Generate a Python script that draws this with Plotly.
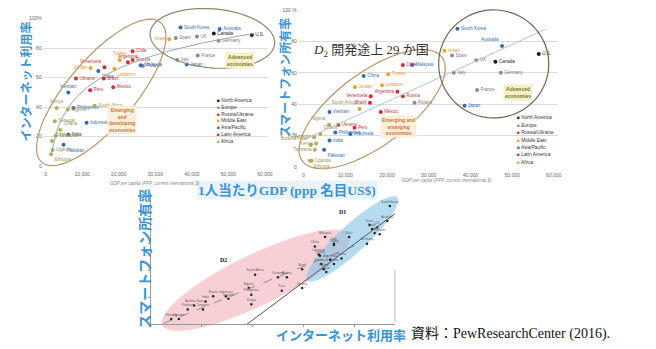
import numpy as np
import plotly.graph_objects as go

W, H = 656, 349

# ---------------- data ----------------
countries = ["U.S.", "Canada", "Spain", "France", "Germany", "UK", "Italy", "Israel", "Australia", "Japan", "South Korea",
             "Chile", "Russia", "Turkey", "Malaysia", "Poland", "Argentina", "Venezuela", "Lebanon", "Jordan", "China",
             "Brazil", "Ukraine", "Mexico", "Peru", "Vietnam", "South Africa", "Philippines", "Nigeria", "Kenya",
             "Senegal", "Indonesia", "Ghana", "India", "Tanzania", "Burkina Faso", "Pakistan", "Uganda", "Ethiopia"]
regions = ["NA", "NA", "EU", "EU", "EU", "EU", "EU", "ME", "AP", "AP", "AP",
           "LA", "RU", "ME", "AP", "EU", "LA", "LA", "ME", "ME", "AP",
           "LA", "RU", "LA", "LA", "AP", "AF", "AP", "AF", "AF",
           "AF", "AP", "AF", "AP", "AF", "AF", "AP", "AF", "AF"]
advanced = [1] * 11 + [0] * 28
gdp = [56400, 46000, 35600, 41600, 47300, 41400, 36000, 33800, 47600, 38600, 36900,
       23800, 23800, 20300, 26000, 26600, 22500, 16100, 18800, 12300, 14400,
       15900, 8300, 18500, 12200, 6200, 13400, 7600, 6100, 3000,
       2500, 11200, 4000, 6200, 2700, 1700, 4900, 1900, 1500]
internet = [89, 90, 87, 75, 85, 88, 72, 86, 93, 69, 94,
            78, 72, 72, 68.5, 68, 70.5, 67, 66, 66.5, 64.5,
            59.5, 59.5, 53.5, 51.5, 50, 41, 39.5, 38.5, 39.5,
            30.5, 29.5, 24.5, 21.5, 20.5, 17, 14.5, 11, 8]
smartphone = [72, 67, 71, 49, 60, 68, 60, 74, 77, 39, 88,
              65, 45, 59, 65, 41, 48, 45, 52, 51, 58,
              41, 27, 35, 25, 35, 37, 22, 27, 15,
              19, 21, 21, 17, 11, 14, 11, 4, 4]

region_order = ["NA", "EU", "RU", "ME", "AP", "LA", "AF"]
region_names = ["North America", "Europe", "Russia/Ukraine", "Middle East", "Asia/Pacific", "Latin America", "Africa"]
region_colors = {"NA": "#1a1a1a", "EU": "#8c8c8c", "RU": "#b5472e", "ME": "#f0a32a",
                 "AP": "#2f6db5", "LA": "#d42a3c", "AF": "#b3ad5a"}
text_colors = {"NA": "#222222", "EU": "#777777", "RU": "#b5472e", "ME": "#e8952a",
               "AP": "#2f6db5", "LA": "#cc2a3a", "AF": "#9a9550"}

gdp_ticks = [0, 10000, 20000, 30000, 40000, 50000, 60000]
gdp_tick_text = ["0", "10,000", "20,000", "30,000", "40,000", "50,000", "60,000"]
pct_ticks = [0, 20, 40, 60, 80, 100]

pos1 = {"Israel": "middle left", "Jordan": "middle left", "Venezuela": "top left", "Turkey": "top center",
        "Vietnam": "top center", "Kenya": "top center", "Argentina": "top center", "Lebanon": "bottom right",
        "China": "bottom right", "Chile": "middle right", "Ethiopia": "bottom right", "Burkina Faso": "top right",
        "Pakistan": "bottom right", "Ghana": "top right", "Uganda": "middle right", "Tanzania": "middle right"}
pos2 = {"Venezuela": "middle left", "Brazil": "middle left", "Argentina": "middle left", "Israel": "middle right",
        "Nigeria": "top left", "South Africa": "top left", "Australia": "top left", "Japan": "middle right",
        "Senegal": "middle left", "Ethiopia": "bottom right", "Uganda": "middle right", "Burkina Faso": "top left",
        "Tanzania": "middle left", "Ghana": "top right", "Pakistan": "bottom right", "Kenya": "middle left"}

fig = go.Figure()

# ---------------- panels 1 & 2 scatter ----------------
for reg in region_order:
    idx = [i for i, r in enumerate(regions) if r == reg]
    fig.add_trace(go.Scatter(
        x=[gdp[i] for i in idx], y=[internet[i] for i in idx],
        mode="markers+text", text=[countries[i] for i in idx],
        textposition=[pos1.get(countries[i], "middle right") for i in idx],
        marker=dict(size=4, color=region_colors[reg]),
        textfont=dict(size=4.5, color=text_colors[reg], family="Arial"),
        xaxis="x", yaxis="y", showlegend=False, cliponaxis=False, hoverinfo="skip"))
    fig.add_trace(go.Scatter(
        x=[gdp[i] for i in idx], y=[smartphone[i] for i in idx],
        mode="markers+text", text=[countries[i] for i in idx],
        textposition=[pos2.get(countries[i], "middle right") for i in idx],
        marker=dict(size=4, color=region_colors[reg]),
        textfont=dict(size=4.5, color=text_colors[reg], family="Arial"),
        xaxis="x2", yaxis="y2", showlegend=False, cliponaxis=False, hoverinfo="skip"))

# trend curves computed from the data
g = np.array(gdp, float)
inet = np.array(internet, float)
sp = np.array(smartphone, float)
b1, a1 = np.polyfit(np.log(g), inet, 1)
gx = np.linspace(1600, 57000, 80)
fig.add_trace(go.Scatter(x=gx, y=a1 + b1 * np.log(gx), mode="lines", line=dict(color="#93a6bd", width=1),
                         xaxis="x", yaxis="y", showlegend=False, hoverinfo="skip"))
b2, a2 = np.polyfit(g, sp, 1)
gx2 = np.array([0, 58000])
fig.add_trace(go.Scatter(x=gx2, y=a2 + b2 * gx2, mode="lines", line=dict(color="#b4c0ce", width=1),
                         xaxis="x2", yaxis="y2", showlegend=False, hoverinfo="skip"))

# ---------------- bottom panel ----------------
adv = np.array(advanced) == 1
fig.add_trace(go.Scatter(x=inet, y=sp, mode="markers+text", text=countries, textposition="top center",
                         marker=dict(size=2.5, color="#222"), textfont=dict(size=3, color="#444"),
                         xaxis="x3", yaxis="y3", showlegend=False, cliponaxis=False, hoverinfo="skip"))
s1, c1 = np.polyfit(inet[adv], sp[adv], 1)
x1 = np.array([-c1 / s1, 96])
fig.add_trace(go.Scatter(x=x1, y=c1 + s1 * x1, mode="lines", line=dict(color="#555", width=1),
                         xaxis="x3", yaxis="y3", showlegend=False, hoverinfo="skip", cliponaxis=False))
s2, c2 = np.polyfit(inet[~adv], sp[~adv], 1)
x2 = np.array([5, 80])
fig.add_trace(go.Scatter(x=x2, y=c2 + s2 * x2, mode="lines", line=dict(color="#777", width=0.8, dash="dash"),
                         xaxis="x3", yaxis="y3", showlegend=False, hoverinfo="skip"))


# ---------------- decorations ----------------
def ellipse_path(cx, cy, a, b, ang_deg, n=72):
    t = np.linspace(0, 2 * np.pi, n)
    th = np.radians(ang_deg)
    x = cx + a * np.cos(t) * np.cos(th) - b * np.sin(t) * np.sin(th)
    y = cy - (a * np.cos(t) * np.sin(th) + b * np.sin(t) * np.cos(th))
    return "M " + " L ".join(f"{u / W:.4f},{1 - v / H:.4f}" for u, v in zip(x, y)) + " Z"


shapes = [
    dict(type="path", xref="paper", yref="paper", path=ellipse_path(102, 91, 93, 34, 50),
         line=dict(color="#b8966a", width=1.2)),
    dict(type="path", xref="paper", yref="paper", path=ellipse_path(214, 36, 63, 30, -5),
         line=dict(color="#8c8a6a", width=1.2)),
    dict(type="path", xref="paper", yref="paper", path=ellipse_path(375, 108, 88, 37, 37),
         line=dict(color="#b8966a", width=1.2)),
    dict(type="path", xref="paper", yref="paper", path=ellipse_path(497.5, 62, 55.5, 55, 0),
         line=dict(color="#6e6a50", width=1.2)),
    dict(type="path", xref="paper", yref="paper", path=ellipse_path(258, 282, 105, 26, 26),
         line=dict(width=0), fillcolor="rgba(240,170,180,0.55)", layer="below"),
    dict(type="path", xref="paper", yref="paper", path=ellipse_path(355, 240, 62, 14, 43),
         line=dict(width=0), fillcolor="rgba(130,195,230,0.6)", layer="below"),
    dict(type="line", xref="paper", yref="paper", x0=398 / W, x1=398 / W, y0=1 - 272 / H, y1=1 - 325 / H,
         line=dict(color="#bbbbbb", width=1)),
]

ann = []


def A(text, x, y, size, color="#333", family="Arial", xanchor="center", yanchor="middle", angle=0, **kw):
    ann.append(dict(text=text, x=x / W, y=1 - y / H, xref="paper", yref="paper", showarrow=False,
                    font=dict(size=size, color=color, family=family), xanchor=xanchor, yanchor=yanchor,
                    textangle=angle, **kw))


blue = "#3a94d6"
jp_bold = "Noto Sans CJK JP"
A("<b>インターネット利用率</b>", 26, 80, 12, blue, jp_bold, angle=-90)
A("<b>スマートフォン所有率</b>", 287, 76, 12, blue, jp_bold, angle=-90)
A("<b>スマートフォン所有率</b>", 145, 260, 14, blue, jp_bold, angle=-90)
A("<b>インターネット利用率</b>", 344, 337, 13, blue, jp_bold)
A("資料：PewResearchCenter (2016).", 412, 337, 14, "#111", "Liberation Serif, Noto Sans CJK JP", xanchor="left")
A("<b>1人当たりGDP (ppp 名目US$)</b>", 289, 190, 13.5, blue, "Liberation Serif, Noto Sans CJK JP",
  bgcolor="rgba(225,238,248,0.7)")
A("<i>D</i><sub>2</sub> 開発途上 29 か国", 374, 48, 13, "#333", "Liberation Serif, Noto Sans CJK JP")
A("<i>GDP per capita (PPP, current international $)</i>", 156, 184, 4.5, "#888")
A("<i>GDP per capita (PPP, current international $)</i>", 450, 181, 4.5, "#888")

A("<b>Advanced<br>economies</b>", 242, 58, 5, "#7a7a2a", bgcolor="#f3efc8")
A("<b>Advanced<br>economies</b>", 522, 91, 5, "#7a7a2a", bgcolor="#f3efc8")
A("<b>Emerging<br>and<br>developing<br>economies</b>", 123, 119, 5, "#d0742e", bgcolor="#fbeedd")
A("<b>Emerging and<br>emerging<br>economies</b>", 402, 126, 5, "#d0742e", bgcolor="#fbeedd")
A("<b>D1</b>", 345, 213, 6, "#111", "Liberation Serif")
A("<b>D2</b>", 225, 261, 6, "#111", "Liberation Serif")

for k, (reg, name) in enumerate(zip(region_order, region_names)):
    A(f"<span style='color:{region_colors[reg]}'>■</span> {name}", 217, 99 + 7 * k, 4.8, "#333",
      xanchor="left")
    A(f"<span style='color:{region_colors[reg]}'>■</span> {name}", 519, 117 + 7.5 * k, 4.8, "#333",
      xanchor="left")

tickf = dict(size=5, color="#666", family="Arial")
grid = "#dcdcdc"
fig.update_layout(
    width=W, height=H, margin=dict(l=0, r=0, t=0, b=0),
    paper_bgcolor="white", plot_bgcolor="rgba(0,0,0,0)",
    shapes=shapes, annotations=ann,
    xaxis=dict(domain=[43 / W, 270 / W], range=[-814, 60814], tickvals=gdp_ticks, ticktext=gdp_tick_text,
               showgrid=False, zeroline=False, tickfont=tickf, anchor="y", ticklabelstandoff=4),
    yaxis=dict(domain=[1 - 166 / H, 1 - 16 / H], range=[0, 100], tickvals=pct_ticks,
               ticktext=["0", "20", "40", "60", "80", "100%"], showgrid=True, gridcolor=grid, zeroline=False,
               tickfont=tickf, anchor="x"),
    xaxis2=dict(domain=[300 / W, 562 / W], range=[-1429, 60952], tickvals=gdp_ticks, ticktext=gdp_tick_text,
                showgrid=False, zeroline=False, tickfont=tickf, anchor="y2", ticklabelstandoff=4),
    yaxis2=dict(domain=[1 - 167 / H, 1 - 7 / H], range=[0, 100], tickvals=pct_ticks,
                ticktext=["0", "20", "40", "60", "80", "100 %"], showgrid=True, gridcolor=grid, zeroline=False,
                tickfont=tickf, anchor="x2"),
    xaxis3=dict(domain=[152 / W, 398 / W], range=[0, 96], dtick=20, showgrid=False, zeroline=False,
                showline=True, linecolor="#999", linewidth=1, ticks="outside", ticklen=2, tickcolor="#999",
                showticklabels=False, anchor="y3"),
    yaxis3=dict(domain=[1 - 327 / H, 1 - 193 / H], range=[0, 98], dtick=20, showgrid=False, zeroline=False,
                showline=True, linecolor="#999", linewidth=1, ticks="outside", ticklen=2, tickcolor="#999",
                showticklabels=False, anchor="x3"),
)

fig.write_html("out.html")
